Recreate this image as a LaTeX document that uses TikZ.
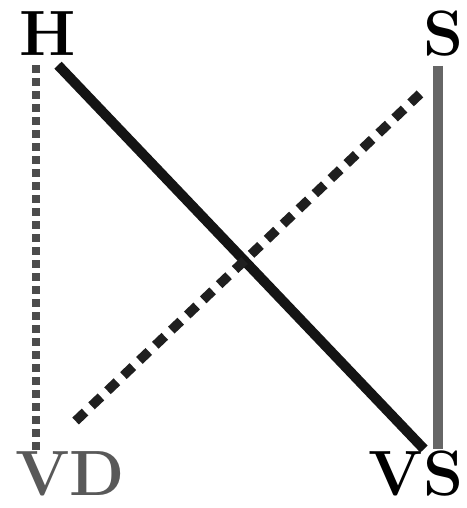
\documentclass[tikz,border=0pt]{standalone}
\usetikzlibrary{calc}
\begin{document}
\begin{tikzpicture}[x=1pt,y=-1pt,
  lbl/.style={inner sep=0pt,font=\fontsize{64}{64}\selectfont\bfseries},
  solidline/.style={line width=10pt,draw=black!92},
  dashline/.style={line width=9.5pt,draw=black!88,dash pattern=on 13pt off 9pt},
  vdash/.style={line width=8pt,draw=black!70,dash pattern=on 8pt off 5pt}]
\useasboundingbox[fill=white] (0,0) rectangle (466,508);
\node[lbl] (h) at (48,34) {H};
\node[lbl] (s) at (443,34) {S};
\node[lbl,text=black!65] (vd) at (70,474) {VD};
\node[lbl] (vs) at (416,474) {VS};
\draw[vdash] ($(h.south)+(-12,9)$) -- ($(vd.north)+(-34,-2)$);
\draw[solidline,draw=black!60] ($(s.south)+(-5,9)$) -- ($(vs.north)+(22,-2)$);
\draw[solidline] ($(h.south)+(10,9)$) -- ($(vs.north)+(8,-2)$);
\draw[dashline] ($(s.south)+(-23,37)$) -- ($(vd.north)+(5,-30)$);
\end{tikzpicture}
\end{document}
